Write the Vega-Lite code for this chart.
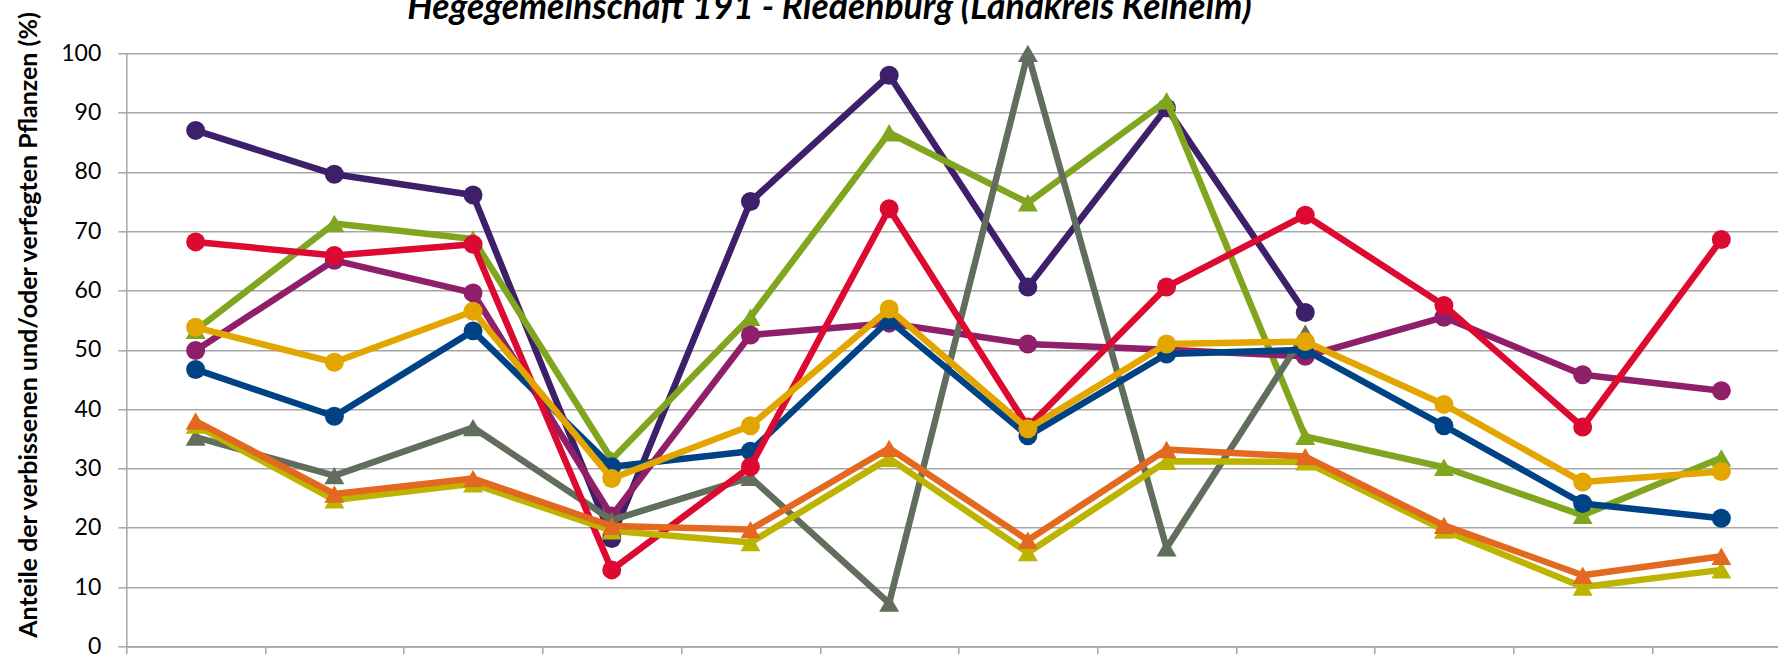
{
  "$schema": "https://vega.github.io/schema/vega-lite/v6.json",
  "autosize": "none",
  "width": 1651.7,
  "height": 593.1,
  "padding": {"left": 126.3, "top": 53.3, "right": 0, "bottom": 7.6},
  "background": "white",
  "config": {"view": {"stroke": null}},
  "title": {
    "text": "Hegegemeinschaft 191 - Riedenburg (Landkreis Kelheim)",
    "font": "Lato",
    "fontSize": 35.5,
    "fontWeight": "bold",
    "fontStyle": "italic",
    "color": "#000000",
    "anchor": "middle",
    "dx": -122.7,
    "offset": 0,
    "dy": 15.6
  },
  "data": {
    "values": [
      {"Jahr": "1991", "Reihe": "Reihe 1", "Anteil": 87.0},
      {"Jahr": "1994", "Reihe": "Reihe 1", "Anteil": 79.6},
      {"Jahr": "1997", "Reihe": "Reihe 1", "Anteil": 76.1},
      {"Jahr": "2000", "Reihe": "Reihe 1", "Anteil": 18.2},
      {"Jahr": "2003", "Reihe": "Reihe 1", "Anteil": 75.0},
      {"Jahr": "2006", "Reihe": "Reihe 1", "Anteil": 96.3},
      {"Jahr": "2009", "Reihe": "Reihe 1", "Anteil": 60.6},
      {"Jahr": "2012", "Reihe": "Reihe 1", "Anteil": 90.8},
      {"Jahr": "2015", "Reihe": "Reihe 1", "Anteil": 56.3},

      {"Jahr": "1991", "Reihe": "Reihe 2", "Anteil": 53.3},
      {"Jahr": "1994", "Reihe": "Reihe 2", "Anteil": 71.3},
      {"Jahr": "1997", "Reihe": "Reihe 2", "Anteil": 68.7},
      {"Jahr": "2000", "Reihe": "Reihe 2", "Anteil": 31.5},
      {"Jahr": "2003", "Reihe": "Reihe 2", "Anteil": 55.5},
      {"Jahr": "2006", "Reihe": "Reihe 2", "Anteil": 86.6},
      {"Jahr": "2009", "Reihe": "Reihe 2", "Anteil": 74.8},
      {"Jahr": "2012", "Reihe": "Reihe 2", "Anteil": 92.0},
      {"Jahr": "2015", "Reihe": "Reihe 2", "Anteil": 35.4},
      {"Jahr": "2018", "Reihe": "Reihe 2", "Anteil": 30.2},
      {"Jahr": "2021", "Reihe": "Reihe 2", "Anteil": 22.1},
      {"Jahr": "2024", "Reihe": "Reihe 2", "Anteil": 31.8},

      {"Jahr": "1991", "Reihe": "Reihe 3", "Anteil": 49.9},
      {"Jahr": "1994", "Reihe": "Reihe 3", "Anteil": 65.1},
      {"Jahr": "1997", "Reihe": "Reihe 3", "Anteil": 59.6},
      {"Jahr": "2000", "Reihe": "Reihe 3", "Anteil": 22.0},
      {"Jahr": "2003", "Reihe": "Reihe 3", "Anteil": 52.5},
      {"Jahr": "2006", "Reihe": "Reihe 3", "Anteil": 54.5},
      {"Jahr": "2009", "Reihe": "Reihe 3", "Anteil": 51.0},
      {"Jahr": "2012", "Reihe": "Reihe 3", "Anteil": 50.0},
      {"Jahr": "2015", "Reihe": "Reihe 3", "Anteil": 48.9},
      {"Jahr": "2018", "Reihe": "Reihe 3", "Anteil": 55.5},
      {"Jahr": "2021", "Reihe": "Reihe 3", "Anteil": 45.8},
      {"Jahr": "2024", "Reihe": "Reihe 3", "Anteil": 43.1},

      {"Jahr": "1991", "Reihe": "Reihe 4", "Anteil": 35.3},
      {"Jahr": "1994", "Reihe": "Reihe 4", "Anteil": 28.8},
      {"Jahr": "1997", "Reihe": "Reihe 4", "Anteil": 36.9},
      {"Jahr": "2000", "Reihe": "Reihe 4", "Anteil": 21.3},
      {"Jahr": "2003", "Reihe": "Reihe 4", "Anteil": 28.5},
      {"Jahr": "2006", "Reihe": "Reihe 4", "Anteil": 7.3},
      {"Jahr": "2009", "Reihe": "Reihe 4", "Anteil": 100.0},
      {"Jahr": "2012", "Reihe": "Reihe 4", "Anteil": 16.6},
      {"Jahr": "2015", "Reihe": "Reihe 4", "Anteil": 52.8},

      {"Jahr": "1991", "Reihe": "Reihe 5", "Anteil": 46.7},
      {"Jahr": "1994", "Reihe": "Reihe 5", "Anteil": 38.8},
      {"Jahr": "1997", "Reihe": "Reihe 5", "Anteil": 53.2},
      {"Jahr": "2000", "Reihe": "Reihe 5", "Anteil": 30.3},
      {"Jahr": "2003", "Reihe": "Reihe 5", "Anteil": 32.9},
      {"Jahr": "2006", "Reihe": "Reihe 5", "Anteil": 55.0},
      {"Jahr": "2009", "Reihe": "Reihe 5", "Anteil": 35.5},
      {"Jahr": "2012", "Reihe": "Reihe 5", "Anteil": 49.3},
      {"Jahr": "2015", "Reihe": "Reihe 5", "Anteil": 50.0},
      {"Jahr": "2018", "Reihe": "Reihe 5", "Anteil": 37.2},
      {"Jahr": "2021", "Reihe": "Reihe 5", "Anteil": 24.1},
      {"Jahr": "2024", "Reihe": "Reihe 5", "Anteil": 21.6},

      {"Jahr": "1991", "Reihe": "Reihe 6", "Anteil": 68.2},
      {"Jahr": "1994", "Reihe": "Reihe 6", "Anteil": 65.9},
      {"Jahr": "1997", "Reihe": "Reihe 6", "Anteil": 67.8},
      {"Jahr": "2000", "Reihe": "Reihe 6", "Anteil": 12.9},
      {"Jahr": "2003", "Reihe": "Reihe 6", "Anteil": 30.3},
      {"Jahr": "2006", "Reihe": "Reihe 6", "Anteil": 73.8},
      {"Jahr": "2009", "Reihe": "Reihe 6", "Anteil": 37.0},
      {"Jahr": "2012", "Reihe": "Reihe 6", "Anteil": 60.6},
      {"Jahr": "2015", "Reihe": "Reihe 6", "Anteil": 72.7},
      {"Jahr": "2018", "Reihe": "Reihe 6", "Anteil": 57.5},
      {"Jahr": "2021", "Reihe": "Reihe 6", "Anteil": 37.0},
      {"Jahr": "2024", "Reihe": "Reihe 6", "Anteil": 68.6},

      {"Jahr": "1991", "Reihe": "Reihe 7", "Anteil": 53.8},
      {"Jahr": "1994", "Reihe": "Reihe 7", "Anteil": 47.9},
      {"Jahr": "1997", "Reihe": "Reihe 7", "Anteil": 56.5},
      {"Jahr": "2000", "Reihe": "Reihe 7", "Anteil": 28.3},
      {"Jahr": "2003", "Reihe": "Reihe 7", "Anteil": 37.2},
      {"Jahr": "2006", "Reihe": "Reihe 7", "Anteil": 56.9},
      {"Jahr": "2009", "Reihe": "Reihe 7", "Anteil": 36.7},
      {"Jahr": "2012", "Reihe": "Reihe 7", "Anteil": 51.0},
      {"Jahr": "2015", "Reihe": "Reihe 7", "Anteil": 51.4},
      {"Jahr": "2018", "Reihe": "Reihe 7", "Anteil": 40.8},
      {"Jahr": "2021", "Reihe": "Reihe 7", "Anteil": 27.7},
      {"Jahr": "2024", "Reihe": "Reihe 7", "Anteil": 29.5},

      {"Jahr": "1991", "Reihe": "Reihe 8", "Anteil": 37.3},
      {"Jahr": "1994", "Reihe": "Reihe 8", "Anteil": 24.7},
      {"Jahr": "1997", "Reihe": "Reihe 8", "Anteil": 27.4},
      {"Jahr": "2000", "Reihe": "Reihe 8", "Anteil": 19.5},
      {"Jahr": "2003", "Reihe": "Reihe 8", "Anteil": 17.5},
      {"Jahr": "2006", "Reihe": "Reihe 8", "Anteil": 31.7},
      {"Jahr": "2009", "Reihe": "Reihe 8", "Anteil": 15.8},
      {"Jahr": "2012", "Reihe": "Reihe 8", "Anteil": 31.2},
      {"Jahr": "2015", "Reihe": "Reihe 8", "Anteil": 31.1},
      {"Jahr": "2018", "Reihe": "Reihe 8", "Anteil": 19.6},
      {"Jahr": "2021", "Reihe": "Reihe 8", "Anteil": 10.0},
      {"Jahr": "2024", "Reihe": "Reihe 8", "Anteil": 12.9},

      {"Jahr": "1991", "Reihe": "Reihe 9", "Anteil": 38.0},
      {"Jahr": "1994", "Reihe": "Reihe 9", "Anteil": 25.7},
      {"Jahr": "1997", "Reihe": "Reihe 9", "Anteil": 28.3},
      {"Jahr": "2000", "Reihe": "Reihe 9", "Anteil": 20.3},
      {"Jahr": "2003", "Reihe": "Reihe 9", "Anteil": 19.7},
      {"Jahr": "2006", "Reihe": "Reihe 9", "Anteil": 33.4},
      {"Jahr": "2009", "Reihe": "Reihe 9", "Anteil": 17.9},
      {"Jahr": "2012", "Reihe": "Reihe 9", "Anteil": 33.2},
      {"Jahr": "2015", "Reihe": "Reihe 9", "Anteil": 32.0},
      {"Jahr": "2018", "Reihe": "Reihe 9", "Anteil": 20.4},
      {"Jahr": "2021", "Reihe": "Reihe 9", "Anteil": 12.0},
      {"Jahr": "2024", "Reihe": "Reihe 9", "Anteil": 15.2}
    ]
  },
  "encoding": {
    "x": {
      "field": "Jahr",
      "type": "ordinal",
      "scale": {"type": "band", "paddingInner": 0, "paddingOuter": 0, "range": [0, 1664.4]},
      "axis": {
        "title": null,
        "labels": false,
        "grid": false,
        "domainColor": "#A6A6A6",
        "domainWidth": 1.5,
        "tickColor": "#A6A6A6",
        "tickWidth": 1.5,
        "tickSize": 14,
        "tickBand": "extent"
      }
    },
    "y": {
      "field": "Anteil",
      "type": "quantitative",
      "scale": {"domain": [0, 100], "nice": false, "zero": true},
      "axis": {
        "title": "Anteile der verbissenen und/oder verfegten Pflanzen (%)",
        "values": [0, 10, 20, 30, 40, 50, 60, 70, 80, 90, 100],
        "grid": true,
        "gridColor": "#A6A6A6",
        "gridWidth": 1.5,
        "domainColor": "#A6A6A6",
        "domainWidth": 1.5,
        "tickColor": "#A6A6A6",
        "tickWidth": 1.5,
        "tickSize": 8.5,
        "labelFont": "Lato",
        "labelFontSize": 23,
        "labelColor": "#000000",
        "labelPadding": 17,
        "titleFont": "Lato",
        "titleFontSize": 25,
        "titleFontWeight": "bold",
        "titleColor": "#000000",
        "titleAngle": -90,
        "titleAlign": "center",
        "titleBaseline": "middle",
        "titleX": -98.3,
        "titleY": 271.2
      }
    }
  },
  "layer": [
    {"transform": [{"filter": "datum.Reihe === 'Reihe 1'"}],
     "mark": {"type": "line", "color": "#3E1F69", "strokeWidth": 6.5, "strokeJoin": "round",
              "point": {"filled": true, "shape": "circle", "size": 360, "color": "#3E1F69", "opacity": 1}}},
    {"transform": [{"filter": "datum.Reihe === 'Reihe 2'"}],
     "mark": {"type": "line", "color": "#80A620", "strokeWidth": 6.5, "strokeJoin": "round",
              "point": {"filled": true, "shape": "triangle-up", "size": 400, "color": "#80A620", "opacity": 1}}},
    {"transform": [{"filter": "datum.Reihe === 'Reihe 3'"}],
     "mark": {"type": "line", "color": "#8E1F68", "strokeWidth": 6.5, "strokeJoin": "round",
              "point": {"filled": true, "shape": "circle", "size": 360, "color": "#8E1F68", "opacity": 1}}},
    {"transform": [{"filter": "datum.Reihe === 'Reihe 4'"}],
     "mark": {"type": "line", "color": "#626E5D", "strokeWidth": 6.5, "strokeJoin": "round",
              "point": {"filled": true, "shape": "triangle-up", "size": 400, "color": "#626E5D", "opacity": 1}}},
    {"transform": [{"filter": "datum.Reihe === 'Reihe 5'"}],
     "mark": {"type": "line", "color": "#004385", "strokeWidth": 6.5, "strokeJoin": "round",
              "point": {"filled": true, "shape": "circle", "size": 360, "color": "#004385", "opacity": 1}}},
    {"transform": [{"filter": "datum.Reihe === 'Reihe 6'"}],
     "mark": {"type": "line", "color": "#DC0A30", "strokeWidth": 6.5, "strokeJoin": "round",
              "point": {"filled": true, "shape": "circle", "size": 360, "color": "#DC0A30", "opacity": 1}}},
    {"transform": [{"filter": "datum.Reihe === 'Reihe 7'"}],
     "mark": {"type": "line", "color": "#E3A500", "strokeWidth": 6.5, "strokeJoin": "round",
              "point": {"filled": true, "shape": "circle", "size": 360, "color": "#E3A500", "opacity": 1}}},
    {"transform": [{"filter": "datum.Reihe === 'Reihe 8'"}],
     "mark": {"type": "line", "color": "#BCB400", "strokeWidth": 6.5, "strokeJoin": "round",
              "point": {"filled": true, "shape": "triangle-up", "size": 400, "color": "#BCB400", "opacity": 1}}},
    {"transform": [{"filter": "datum.Reihe === 'Reihe 9'"}],
     "mark": {"type": "line", "color": "#E2691F", "strokeWidth": 6.5, "strokeJoin": "round",
              "point": {"filled": true, "shape": "triangle-up", "size": 400, "color": "#E2691F", "opacity": 1}}}
  ]
}
